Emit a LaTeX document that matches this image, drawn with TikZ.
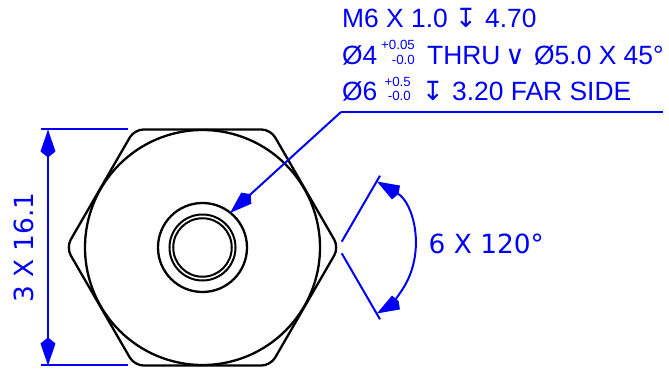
\documentclass[tikz,border=0pt]{standalone}
\usepackage{fontspec}
\setmainfont{Liberation Sans}
\newfontfamily\symfont{DejaVu Sans}
\usetikzlibrary{arrows.meta}
\definecolor{dimblue}{RGB}{0,0,245}
\tikzset{
	part/.style={draw=black, line width=2.3pt},
	dimline/.style={draw=dimblue, line width=2pt},
	dimarrow/.style={dimline, -{Kite[length=28pt,width=15pt,inset=6pt]}},
	dimarrows/.style={dimline, {Kite[length=28pt,width=15pt,inset=6pt]}-{Kite[length=28pt,width=15pt,inset=6pt]}},
	arcarrows/.style={dimline, {Kite[length=25pt,width=16pt,inset=3pt]}-{Kite[length=25pt,width=16pt,inset=3pt]}},
	calltext/.style={anchor=base west, inner sep=0pt, text=dimblue, font=\fontsize{26.4}{26}\selectfont},
	symtext/.style={anchor=base, inner sep=0pt, text=dimblue, font=\fontsize{26.4}{26}\selectfont\symfont},
	toltext/.style={anchor=base east, inner sep=0pt, text=dimblue, font=\fontsize{13.3}{13}\selectfont}
}
\begin{document}
\begin{tikzpicture}[x=1pt, y=1pt]
	\useasboundingbox (-202.5,-123.5) rectangle (466.5,247.5);

	% hexagon and circles
	\draw[part, rounded corners=9pt] (-136.3,0) -- (-68.1,118) -- (68.1,118) -- (136.3,0) -- (68.1,-118) -- (-68.1,-118) -- cycle;
	\node[part, circle, inner sep=0pt, minimum size=235pt] (body) at (0,0) {};
	\node[part, circle, inner sep=0pt, minimum size=89pt] (bore) at (0,0) {};
	\node[part, circle, inner sep=0pt, minimum size=66pt, line width=2pt] (thread) at (0,0) {};
	\node[part, circle, inner sep=0pt, minimum size=58.5pt, line width=2pt] (hole) at (0,0) {};

	% height dimension
	\coordinate (topA) at (-161.5,118);
	\coordinate (topB) at (-74.5,118);
	\coordinate (botA) at (-161.5,-118);
	\coordinate (botB) at (-74.5,-118);
	\coordinate (topD) at (-154.5,118);
	\coordinate (botD) at (-154.5,-118);
	\draw[dimline] (topA) -- (topB);
	\draw[dimline] (botA) -- (botB);
	\draw[dimarrows] (topD) -- (botD);
	\node[calltext, anchor=base, rotate=90, font=\fontsize{26.4}{26}\selectfont\symfont] (height) at (-168.5,0) {3 X 16.1};

	% angle dimension
	\coordinate (angA) at (139.2,5.8);
	\coordinate (angB) at (177.5,71.8);
	\coordinate (angC) at (139.2,-5.8);
	\coordinate (angD) at (177.5,-71.8);
	\coordinate (tipA) at (174.4,66);
	\draw[dimline] (angA) -- (angB);
	\draw[dimline] (angC) -- (angD);
	\draw[arcarrows] (tipA) arc[start angle=60, end angle=-60, radius=76.2];
	\node[calltext, font=\fontsize{26.4}{26}\selectfont\symfont] (angle) at (226,-6) {6 X 120°};

	% hole callout
	\coordinate (leadEnd) at (460.5,135.5);
	\coordinate (leadKnee) at (138.5,135.5);
	\coordinate (leadTip) at (27.5,34.5);
	\draw[dimline] (leadEnd) -- (leadKnee);
	\draw[dimarrow] (leadKnee) -- (leadTip);

	\node[calltext] (lineA) at (139.5,219.8) {M6 X 1.0};
	\node[symtext] (depthA) at (263.5,219.8) {↧};
	\node[calltext] (depthValA) at (282.5,219.8) {4.70};

	\node[calltext] (lineB) at (139.5,183.2) {Ø4};
	\node[toltext] (tolUpB) at (212.5,197.5) {+0.05};
	\node[toltext] (tolLowB) at (212.5,183.2) {-0.0};
	\node[calltext] (thru) at (224.5,183.2) {THRU};
	\node[symtext] (sink) at (312.5,183.2) {∨};
	\node[calltext] (sinkVal) at (331.5,183.2) {Ø5.0 X 45°};

	\node[calltext] (lineC) at (139.5,146.5) {Ø6};
	\node[toltext] (tolUpC) at (208.5,160.5) {+0.5};
	\node[toltext] (tolLowC) at (208.5,146.5) {-0.0};
	\node[symtext] (depthC) at (230.5,146.5) {↧};
	\node[calltext] (depthValC) at (249.5,146.5) {3.20 FAR SIDE};
\end{tikzpicture}
\end{document}
